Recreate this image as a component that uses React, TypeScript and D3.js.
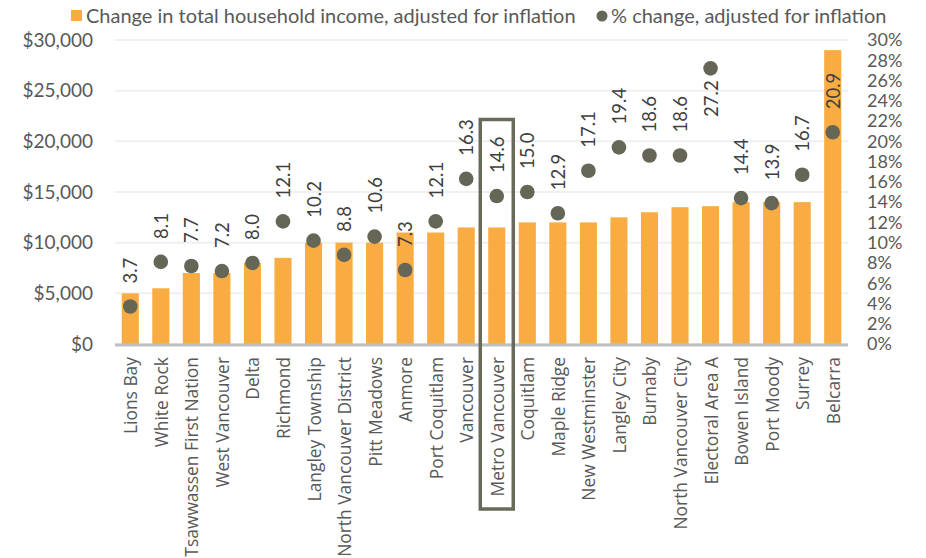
import React from "react";
import * as d3 from "d3";

const categories = [
  "Lions Bay", "White Rock", "Tsawwassen First Nation", "West Vancouver", "Delta", "Richmond",
  "Langley Township", "North Vancouver District", "Pitt Meadows", "Anmore", "Port Coquitlam",
  "Vancouver", "Metro Vancouver", "Coquitlam", "Maple Ridge", "New Westminster", "Langley City",
  "Burnaby", "North Vancouver City", "Electoral Area A", "Bowen Island", "Port Moody", "Surrey", "Belcarra",
];
const incomeChange = [
  5000, 5500, 7000, 7000, 8000, 8500, 10000, 10000, 10000, 11000, 11000, 11500,
  11500, 12000, 12000, 12000, 12500, 13000, 13500, 13600, 14000, 14000, 14000, 29000,
];
const pctChange = [
  3.7, 8.1, 7.7, 7.2, 8.0, 12.1, 10.2, 8.8, 10.6, 7.3, 12.1, 16.3,
  14.6, 15.0, 12.9, 17.1, 19.4, 18.6, 18.6, 27.2, 14.4, 13.9, 16.7, 20.9,
];
const leftTicks = [0, 5000, 10000, 15000, 20000, 25000, 30000];
const rightTicks = [0, 2, 4, 6, 8, 10, 12, 14, 16, 18, 20, 22, 24, 26, 28, 30];
const highlighted = "Metro Vancouver";
const labelBelow = ["Electoral Area A"];
const legendLabels = ["Change in total household income, adjusted for inflation", "% change, adjusted for inflation"];

const W = 926, H = 558;
const plotL = 115, plotR = 848, plotT = 40, plotB = 344;
const barColor = "#F9AC42";
const dotColor = "#666657";
const tickColor = "#595959";
const font = "Lato, 'Open Sans', sans-serif";

export default function App() {
  const x = d3.scaleBand<string>().domain(categories).range([plotL, plotR]).paddingInner(0.44).paddingOuter(0.22);
  const yL = d3.scaleLinear().domain([0, 30000]).range([plotB, plotT]);
  const yR = d3.scaleLinear().domain([0, 30]).range([plotB, plotT]);
  const fmt = (v: number) => "$" + d3.format(",")(v);
  const bw = x.bandwidth();
  const cx = (c: string) => (x(c) as number) + bw / 2;

  return (
    <svg width={W} height={H} style={{ position: "absolute", left: 0, top: 0, background: "#fff" }}>
      {/* legend */}
      <rect x={71} y={10} width={11} height={11} fill={barColor} />
      <text x={86} y={23} fontFamily={font} fontSize={20} fill={tickColor}>{legendLabels[0]}</text>
      <circle cx={602} cy={16} r={5.5} fill={dotColor} />
      <text x={611} y={23} fontFamily={font} fontSize={20} fill={tickColor}>{legendLabels[1]}</text>

      {/* gridlines */}
      {leftTicks.map((t) => (
        <line key={"g" + t} x1={plotL} x2={plotR} y1={yL(t)} y2={yL(t)} stroke="#f0f0f0" strokeWidth={2} />
      ))}
      {/* left ticks */}
      {leftTicks.map((t) => (
        <text key={"l" + t} x={93} y={yL(t)} dy="0.35em" textAnchor="end" fontFamily={font} fontSize={19} fill={tickColor}>{fmt(t)}</text>
      ))}
      {/* right ticks */}
      {rightTicks.map((t) => (
        <text key={"r" + t} x={867} y={yR(t)} dy="0.35em" textAnchor="start" fontFamily={font} fontSize={18} fill={tickColor}>{t + "%"}</text>
      ))}

      {/* bars */}
      {categories.map((c, i) => (
        <rect key={"b" + c} x={x(c)} y={yL(incomeChange[i])} width={bw} height={plotB - yL(incomeChange[i])} fill={barColor} />
      ))}
      {/* axis line */}
      <line x1={plotL} x2={plotR} y1={plotB + 1} y2={plotB + 1} stroke="#bfbfbf" strokeWidth={3} />

      {/* points */}
      {categories.map((c, i) => (
        <circle key={"p" + c} cx={cx(c)} cy={yR(pctChange[i])} r={7.3} fill={dotColor} />
      ))}
      {/* data labels */}
      {categories.map((c, i) => {
        const px = cx(c);
        const below = labelBelow.includes(c);
        const py = below ? yR(pctChange[i]) + 12 : yR(pctChange[i]) - 23;
        return (
          <text key={"d" + c} transform={`translate(${px},${py}) rotate(-90)`} dominantBaseline="central" textAnchor={below ? "end" : "start"}
            fontFamily={font} fontSize={18.5} fill="#404040">{pctChange[i].toFixed(1)}</text>
        );
      })}

      {/* category labels */}
      {categories.map((c) => (
        <text key={"c" + c} transform={`translate(${cx(c)},${357}) rotate(-90)`} dominantBaseline="central" textAnchor="end"
          fontFamily="'Open Sans', sans-serif" fontSize={17.4} fill={tickColor}>{c}</text>
      ))}

      {/* highlight box */}
      <rect x={cx(highlighted) - 16.5} y={119.5} width={33} height={389.5} fill="none" stroke="#6a6a5a" strokeWidth={3.5} />
    </svg>
  );
}
